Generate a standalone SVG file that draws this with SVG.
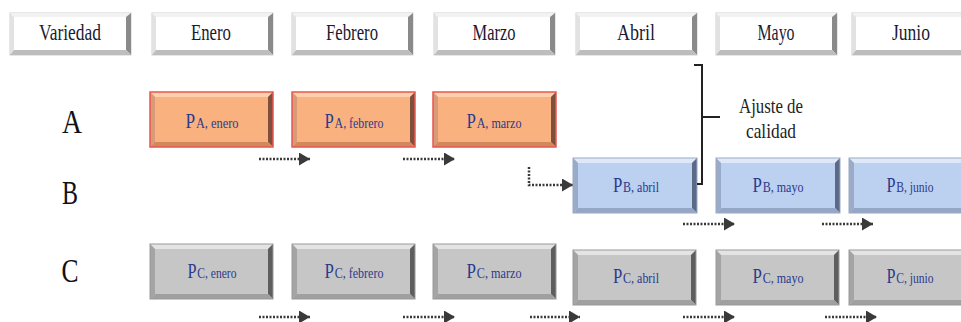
<svg xmlns="http://www.w3.org/2000/svg" xmlns:xlink="http://www.w3.org/1999/xlink" width="961" height="322" viewBox="0 0 961 322">
<style>
  .hdr { font-family: "Liberation Serif", "Times New Roman", serif; font-size: 24px; fill: #1a1a33; text-anchor: middle; }
  .row { font-family: "Liberation Serif", "Times New Roman", serif; font-size: 34px; fill: #111; text-anchor: middle; }
  .lbl { font-family: "Liberation Serif", "Times New Roman", serif; font-size: 15px; fill: #2b3a8c; text-anchor: middle; }
  .lbl .big { font-size: 21px; }
  .note { font-family: "Liberation Serif", "Times New Roman", serif; font-size: 22px; fill: #222; text-anchor: middle; }
  .arr { fill: none; stroke: #3a3a3a; stroke-width: 2.5; stroke-dasharray: 2 1.5; }
  .brk { fill: none; stroke: #222; stroke-width: 2; }
</style>
<defs>
  <marker id="ah" markerUnits="userSpaceOnUse" markerWidth="11" markerHeight="13" refX="11" refY="6.5" orient="auto">
    <path d="M0,0 L11,6.5 L0,13 z" fill="#3a3a3a"/>
  </marker>
  <g id="boxHeader">
    <rect x="0" y="0" width="121" height="42" fill="#ffffff" stroke="#d0d0d0" stroke-width="1"/>
    <polygon points="0,0 121,0 116,4 4,4" fill="#f2f2f2"/>
    <polygon points="0,0 4,4 4,37 0,42" fill="#e2e2e2"/>
    <polygon points="121,0 121,42 116,37 116,4" fill="#8a8a8a"/>
    <polygon points="0,42 121,42 116,37 4,37" fill="#bdbdbd"/>
  </g>
  <g id="boxOrange">
    <rect x="0" y="0" width="123" height="55" fill="#f9b27f"/>
    <polygon points="0,0 123,0 118,5 5,5" fill="#fdd0ae"/>
    <polygon points="0,0 5,5 5,50 0,55" fill="#d99a78"/>
    <polygon points="123,0 123,55 118,50 118,5" fill="#7e4f3c"/>
    <polygon points="0,55 123,55 118,50 5,50" fill="#d3875c"/>
    <rect x="0" y="0" width="123" height="55" fill="none" stroke="#e8574f" stroke-width="1.5"/>
  </g>
  <g id="boxBlue">
    <rect x="0" y="0" width="124" height="55" fill="#bcd0f0"/>
    <polygon points="0,0 124,0 119,5 5,5" fill="#dfe8f8"/>
    <polygon points="0,0 5,5 5,50 0,55" fill="#9aabc8"/>
    <polygon points="124,0 124,55 119,50 119,5" fill="#5b6a86"/>
    <polygon points="0,55 124,55 119,50 5,50" fill="#95a7c6"/>
    <rect x="0" y="0" width="124" height="55" fill="none" stroke="#9aa9c4" stroke-width="1"/>
  </g>
  <g id="boxGray">
    <rect x="0" y="0" width="123" height="55" fill="#c6c6c6"/>
    <polygon points="0,0 123,0 118,5 5,5" fill="#e4e4e4"/>
    <polygon points="0,0 5,5 5,50 0,55" fill="#a4a4a4"/>
    <polygon points="123,0 123,55 118,50 118,5" fill="#5e5e5e"/>
    <polygon points="0,55 123,55 118,50 5,50" fill="#a0a0a0"/>
    <rect x="0" y="0" width="123" height="55" fill="none" stroke="#999" stroke-width="1"/>
  </g>
</defs>

<!-- Header -->
<g id="h-variedad"><use xlink:href="#boxHeader" x="10" y="13"/><text class="hdr" x="70" y="40" textLength="62" lengthAdjust="spacingAndGlyphs">Variedad</text></g>
<g id="h-enero"><use xlink:href="#boxHeader" x="152" y="13"/><text class="hdr" x="211" y="40" textLength="40" lengthAdjust="spacingAndGlyphs">Enero</text></g>
<g id="h-febrero"><use xlink:href="#boxHeader" x="292" y="13"/><text class="hdr" x="352" y="40" textLength="52" lengthAdjust="spacingAndGlyphs">Febrero</text></g>
<g id="h-marzo"><use xlink:href="#boxHeader" x="434" y="13"/><text class="hdr" x="494" y="40" textLength="43" lengthAdjust="spacingAndGlyphs">Marzo</text></g>
<g id="h-abril"><use xlink:href="#boxHeader" x="576" y="13"/><text class="hdr" x="636" y="40" textLength="38" lengthAdjust="spacingAndGlyphs">Abril</text></g>
<g id="h-mayo"><use xlink:href="#boxHeader" x="716" y="13"/><text class="hdr" x="776" y="40" textLength="37" lengthAdjust="spacingAndGlyphs">Mayo</text></g>
<g id="h-junio"><use xlink:href="#boxHeader" x="852" y="13"/><text class="hdr" x="911" y="40" textLength="38" lengthAdjust="spacingAndGlyphs">Junio</text></g>

<!-- Row labels -->
<g id="r-a"><text class="row" x="72" y="133" textLength="20" lengthAdjust="spacingAndGlyphs">A</text></g>
<g id="r-b"><text class="row" x="70" y="204" textLength="16" lengthAdjust="spacingAndGlyphs">B</text></g>
<g id="r-c"><text class="row" x="70" y="282" textLength="17" lengthAdjust="spacingAndGlyphs">C</text></g>

<!-- Row A -->
<g id="pa-enero"><use xlink:href="#boxOrange" x="150" y="92"/><text class="lbl" x="212" y="128" textLength="53" lengthAdjust="spacingAndGlyphs"><tspan class="big">P</tspan><tspan dx="1">A, enero</tspan></text></g>
<g id="pa-febrero"><use xlink:href="#boxOrange" x="292" y="92"/><text class="lbl" x="354" y="128" textLength="59" lengthAdjust="spacingAndGlyphs"><tspan class="big">P</tspan><tspan dx="1">A, febrero</tspan></text></g>
<g id="pa-marzo"><use xlink:href="#boxOrange" x="433" y="92"/><text class="lbl" x="494" y="128" textLength="55" lengthAdjust="spacingAndGlyphs"><tspan class="big">P</tspan><tspan dx="1">A, marzo</tspan></text></g>

<!-- Row B -->
<g id="pb-abril"><use xlink:href="#boxBlue" x="573" y="158"/><text class="lbl" x="636" y="192" textLength="46" lengthAdjust="spacingAndGlyphs"><tspan class="big">P</tspan><tspan dx="1">B, abril</tspan></text></g>
<g id="pb-mayo"><use xlink:href="#boxBlue" x="716" y="158"/><text class="lbl" x="778" y="192" textLength="51" lengthAdjust="spacingAndGlyphs"><tspan class="big">P</tspan><tspan dx="1">B, mayo</tspan></text></g>
<g id="pb-junio"><use xlink:href="#boxBlue" x="849" y="158"/><text class="lbl" x="910" y="192" textLength="47" lengthAdjust="spacingAndGlyphs"><tspan class="big">P</tspan><tspan dx="1">B, junio</tspan></text></g>

<!-- Row C -->
<g id="pc-enero"><use xlink:href="#boxGray" x="150" y="244"/><text class="lbl" x="212" y="278" textLength="49" lengthAdjust="spacingAndGlyphs"><tspan class="big">P</tspan><tspan dx="1">C, enero</tspan></text></g>
<g id="pc-febrero"><use xlink:href="#boxGray" x="292" y="244"/><text class="lbl" x="354" y="278" textLength="59" lengthAdjust="spacingAndGlyphs"><tspan class="big">P</tspan><tspan dx="1">C, febrero</tspan></text></g>
<g id="pc-marzo"><use xlink:href="#boxGray" x="433" y="244"/><text class="lbl" x="494" y="278" textLength="55" lengthAdjust="spacingAndGlyphs"><tspan class="big">P</tspan><tspan dx="1">C, marzo</tspan></text></g>
<g id="pc-abril"><use xlink:href="#boxGray" x="573" y="250"/><text class="lbl" x="636" y="283" textLength="46" lengthAdjust="spacingAndGlyphs"><tspan class="big">P</tspan><tspan dx="1">C, abril</tspan></text></g>
<g id="pc-mayo"><use xlink:href="#boxGray" x="716" y="250"/><text class="lbl" x="778" y="283" textLength="51" lengthAdjust="spacingAndGlyphs"><tspan class="big">P</tspan><tspan dx="1">C, mayo</tspan></text></g>
<g id="pc-junio"><use xlink:href="#boxGray" x="849" y="250"/><text class="lbl" x="910" y="283" textLength="47" lengthAdjust="spacingAndGlyphs"><tspan class="big">P</tspan><tspan dx="1">C, junio</tspan></text></g>

<!-- Quality adjustment bracket -->
<g id="ajuste">
  <path class="brk" d="M694,65 H702 V184 H697"/>
  <path class="brk" d="M702,117 H720"/>
  <text class="note" x="771" y="113" textLength="64" lengthAdjust="spacingAndGlyphs">Ajuste de</text>
  <text class="note" x="771" y="138" textLength="50" lengthAdjust="spacingAndGlyphs">calidad</text>
</g>

<!-- Connectors -->
<g id="connectors">
  <line class="arr" x1="259" y1="159" x2="310" y2="159" marker-end="url(#ah)"/>
  <line class="arr" x1="403" y1="159" x2="455" y2="159" marker-end="url(#ah)"/>
  <polyline class="arr" points="529,167 529,185 573,185" marker-end="url(#ah)"/>
  <line class="arr" x1="683" y1="224" x2="735" y2="224" marker-end="url(#ah)"/>
  <line class="arr" x1="822" y1="224" x2="873" y2="224" marker-end="url(#ah)"/>
  <line class="arr" x1="259" y1="317" x2="310" y2="317" marker-end="url(#ah)"/>
  <line class="arr" x1="403" y1="317" x2="455" y2="317" marker-end="url(#ah)"/>
  <line class="arr" x1="530" y1="317" x2="580" y2="317" marker-end="url(#ah)"/>
  <line class="arr" x1="683" y1="317" x2="735" y2="317" marker-end="url(#ah)"/>
  <line class="arr" x1="825" y1="317" x2="877" y2="317" marker-end="url(#ah)"/>
</g>
</svg>
